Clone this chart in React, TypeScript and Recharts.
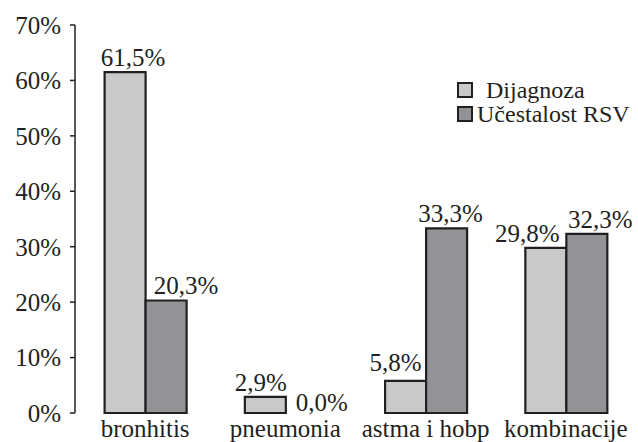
import React from 'react';
import {
  BarChart,
  Bar,
  XAxis,
  YAxis,
  Legend,
  LabelList,
} from 'recharts';

const categories = ['bronhitis', 'pneumonia', 'astma i hobp', 'kombinacije'];
const dijagnoza = [61.5, 2.9, 5.8, 29.8];
const ucestalost = [20.3, 0.0, 33.3, 32.3];
const yTicks = [0, 10, 20, 30, 40, 50, 60, 70];
const categoryBounds = [0, 1, 2, 3, 4];

const data = categories.map((name, i) => ({
  name,
  dijagnoza: dijagnoza[i],
  ucestalost: ucestalost[i],
}));

const INK = '#231f20';
const FONT = "'Liberation Serif', 'Times New Roman', Times, serif";
const serif = { fontFamily: FONT };

// hand nudges for the value labels, [dx, dy] per bar
const labelNudge: Record<string, [number, number][]> = {
  dijagnoza: [[8, 0], [-4.5, 0], [-10, -4], [-18.5, 0]],
  ucestalost: [[20, 0], [15.5, 4], [4, 0], [13.5, 0]],
};

const fmt = (v: number) => `${v.toFixed(1).replace('.', ',')}%`;

const labelText = (key: string, index: number, cx: number, top: number, value: number) => {
  const [dx, dy] = labelNudge[key][index] ?? [0, 0];
  return (
    <text
      key={key}
      x={cx + dx}
      y={top - 6 + dy}
      textAnchor="middle"
      fontSize={25}
      fontFamily={FONT}
      style={serif}
      fill={INK}
    >
      {fmt(value)}
    </text>
  );
};

// the light bar's label list draws both labels: a 0 bar gets no label of its own,
// so the dark label is placed with the same pixels-per-percent as the light bar
const pairLabels = (props: any) => {
  const { x, y, width, height, index } = props;
  const bx = Number(x);
  const w = Number(width);
  const bottom = Number(y) + Number(height);
  const perUnit = Number(height) / dijagnoza[index];
  return (
    <g>
      {labelText('dijagnoza', index, bx + w / 2, Number(y), dijagnoza[index])}
      {labelText('ucestalost', index, bx + w * 1.5, bottom - ucestalost[index] * perUnit, ucestalost[index])}
    </g>
  );
};

const legendGap = [13, 4];

const LegendBox = ({ payload }: any) => (
  <div style={{ fontFamily: FONT, fontSize: 24, lineHeight: '24px', color: INK }}>
    {(payload ?? []).map((item: any, i: number) => (
      <div key={item.value} style={{ display: 'flex', alignItems: 'center', whiteSpace: 'nowrap' }}>
        <span
          style={{
            width: 16,
            height: 16,
            boxSizing: 'border-box',
            border: `2px solid ${INK}`,
            background: item.color,
            display: 'inline-block',
          }}
        />
        <span style={{ marginLeft: legendGap[i] }}>{item.value}</span>
      </div>
    ))}
  </div>
);

const tickStyle = { fill: INK, fontSize: 25, fontFamily: FONT, style: serif };

export default function App() {
  return (
    <div style={{ position: 'absolute', left: 0, top: 0, background: '#fff', fontFamily: FONT }}>
      <BarChart
        width={638}
        height={442}
        data={data}
        margin={{ top: 25, right: 2, left: 0, bottom: 0 }}
        barCategoryGap={29.6}
        barGap={0}
        style={serif}
      >
        <XAxis
          xAxisId="bounds"
          type="number"
          domain={[0, 4]}
          ticks={categoryBounds}
          allowDataOverflow
          height={0}
          tick={false}
          tickSize={6}
          axisLine={{ stroke: INK, strokeWidth: 1.5 }}
          tickLine={{ stroke: INK, strokeWidth: 1.5 }}
        />
        <XAxis
          xAxisId="cat"
          dataKey="name"
          height={29}
          axisLine={false}
          tickLine={false}
          tickSize={6}
          tickMargin={0}
          tick={tickStyle}
          interval={0}
        />
        <YAxis
          width={75}
          domain={[0, 70]}
          ticks={yTicks}
          tickFormatter={(v: number) => `${v}%`}
          tickSize={5}
          tickMargin={9}
          tick={tickStyle}
          axisLine={{ stroke: INK, strokeWidth: 1.5 }}
          tickLine={{ stroke: INK, strokeWidth: 1.5 }}
        />
        <Legend
          layout="horizontal"
          verticalAlign="middle"
          align="center"
          content={<LegendBox />}
          wrapperStyle={{ position: 'absolute', top: 78, left: 457, width: 'auto' }}
        />
        <Bar
          xAxisId="cat"
          dataKey="dijagnoza"
          name="Dijagnoza"
          fill="#c8c9cb"
          stroke={INK}
          strokeWidth={2.2}
          isAnimationActive={false}
        >
          <LabelList dataKey="dijagnoza" content={pairLabels} />
        </Bar>
        <Bar
          xAxisId="cat"
          dataKey="ucestalost"
          name="Učestalost RSV"
          fill="#929396"
          stroke={INK}
          strokeWidth={2.2}
          isAnimationActive={false}
        />
      </BarChart>
    </div>
  );
}
